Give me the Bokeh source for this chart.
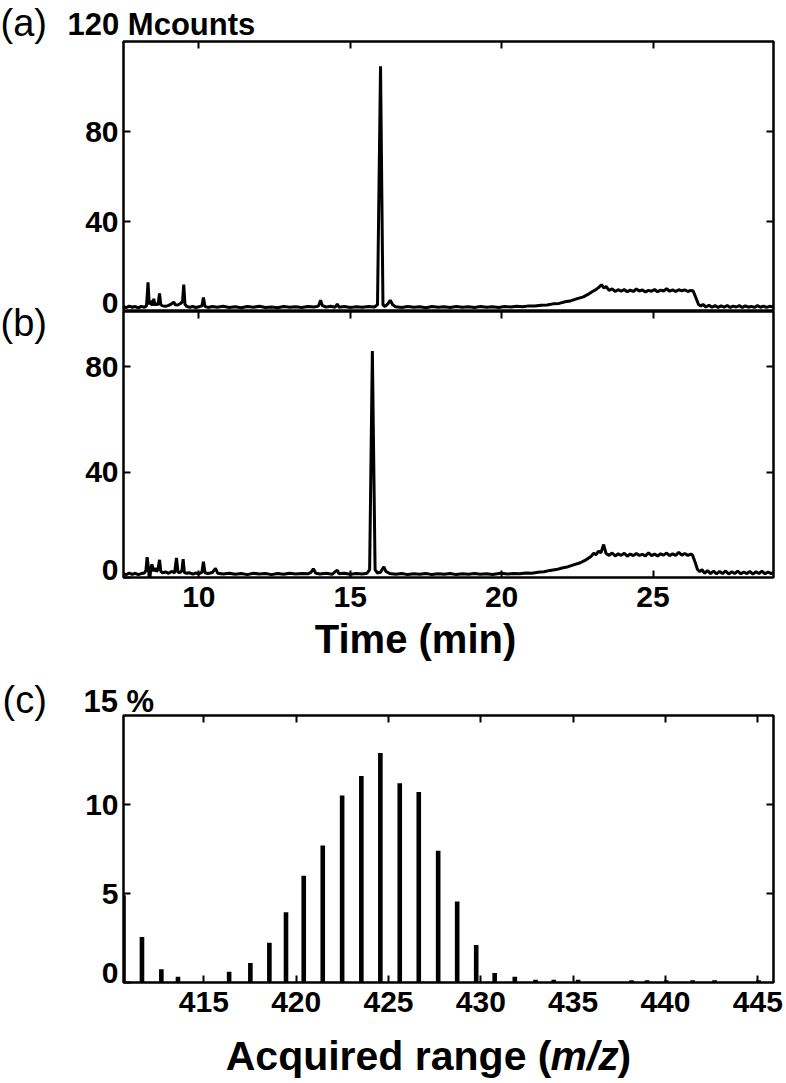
from bokeh.plotting import figure
from bokeh.models import Range1d, LinearAxis, FixedTicker, GridBox
from bokeh.layouts import column
from bokeh.core.properties import value
from bokeh.embed import file_html
from bokeh.resources import INLINE

# ---------------- data ----------------
time_a = [7.51, 7.6, 7.7, 7.8, 7.9, 8.0, 8.1, 8.2, 8.27, 8.32, 8.36, 8.42, 8.46, 8.51, 8.55, 8.6, 8.65, 8.7, 8.74, 8.8,
          8.9, 9.0, 9.1, 9.17, 9.22, 9.3, 9.4, 9.46, 9.5, 9.54, 9.6, 9.7, 9.8, 9.9, 10.0, 10.1, 10.15, 10.2, 10.3, 10.45,
          10.6, 10.8, 11.0, 11.2, 11.4, 11.6, 11.8, 12.0, 12.2, 12.4, 12.6, 12.8, 13.0, 13.2, 13.4, 13.6, 13.8, 13.95, 14.02, 14.08,
          14.2, 14.35, 14.5, 14.57, 14.63, 14.8, 15.0, 15.2, 15.4, 15.6, 15.8, 15.9, 16.0, 16.08, 16.15, 16.24, 16.32, 16.4, 16.5, 16.7,
          16.9, 17.1, 17.3, 17.5, 17.7, 17.9, 18.1, 18.3, 18.5, 18.7, 18.9, 19.1, 19.3, 19.5, 19.7, 19.9, 20.1, 20.3, 20.5, 20.7,
          20.9, 21.1, 21.3, 21.5, 21.7, 21.9, 22.1, 22.3, 22.5, 22.7, 22.85, 23.0, 23.1, 23.2, 23.3, 23.38, 23.45, 23.55, 23.65, 23.75,
          23.85, 23.95, 24.05, 24.15, 24.25, 24.35, 24.45, 24.55, 24.65, 24.75, 24.85, 24.95, 25.05, 25.15, 25.25, 25.35, 25.45, 25.55, 25.65, 25.75,
          25.85, 25.95, 26.05, 26.15, 26.25, 26.33, 26.42, 26.5, 26.58, 26.65, 26.75, 26.85, 26.95, 27.05, 27.15, 27.25, 27.35, 27.45, 27.55, 27.65,
          27.75, 27.85, 27.95, 28.05, 28.15, 28.25, 28.35, 28.45, 28.55, 28.65, 28.75, 28.85, 28.98]
counts_a = [2.2, 1.7, 2.4, 1.9, 2.2, 1.6, 2.3, 1.9, 2.5, 13.0, 3.2, 4.8, 2.6, 5.6, 2.8, 3.6, 2.9, 8.0, 3.1, 2.5,
            2.3, 2.7, 3.4, 4.2, 3.0, 2.9, 3.6, 4.5, 12.0, 3.2, 2.2, 1.9, 2.2, 1.8, 2.1, 2.5, 6.2, 2.3, 1.8, 2.2,
            1.9, 2.3, 1.8, 2.1, 1.7, 2.2, 1.9, 2.3, 1.8, 2.0, 1.7, 2.2, 1.9, 2.1, 1.8, 2.2, 2.0, 2.4, 5.0, 2.6,
            2.0, 2.3, 1.9, 3.3, 1.9, 2.2, 1.8, 2.1, 1.9, 2.2, 2.0, 3.0, 109.0, 3.0, 2.2, 3.4, 5.0, 3.0, 2.1, 1.8,
            2.2, 1.9, 2.1, 1.7, 2.2, 1.9, 2.1, 1.8, 2.2, 1.9, 2.1, 1.8, 2.2, 1.9, 2.1, 1.8, 2.2, 2.0, 2.3, 2.1,
            2.5, 2.4, 2.8, 2.9, 3.4, 3.6, 4.3, 4.8, 5.7, 6.5, 7.6, 8.9, 9.6, 10.6, 11.9, 10.4, 11.2, 9.4, 10.1, 8.9,
            9.7, 9.0, 9.8, 8.8, 9.5, 8.9, 10.0, 9.1, 9.6, 8.7, 9.4, 9.0, 9.8, 8.8, 9.5, 9.1, 10.1, 9.0, 9.6, 8.9,
            9.7, 9.2, 9.6, 8.9, 9.4, 9.0, 6.0, 3.2, 2.4, 3.1, 2.0, 2.8, 1.9, 2.6, 1.8, 2.5, 1.9, 2.7, 1.8, 2.4,
            2.0, 2.6, 1.8, 2.5, 1.9, 2.3, 1.8, 2.6, 1.9, 2.4, 1.8, 2.3, 2.0]

time_b = [7.51, 7.6, 7.7, 7.8, 7.9, 8.0, 8.1, 8.2, 8.25, 8.29, 8.33, 8.37, 8.41, 8.45, 8.5, 8.55, 8.6, 8.65, 8.7, 8.74,
          8.8, 8.9, 9.0, 9.1, 9.2, 9.26, 9.31, 9.38, 9.44, 9.48, 9.52, 9.6, 9.7, 9.8, 9.9, 10.0, 10.1, 10.15, 10.2, 10.3,
          10.45, 10.55, 10.62, 10.8, 11.0, 11.2, 11.4, 11.6, 11.8, 12.0, 12.2, 12.4, 12.6, 12.8, 13.0, 13.2, 13.4, 13.6, 13.7, 13.78,
          13.86, 14.0, 14.2, 14.4, 14.57, 14.63, 14.8, 15.0, 15.2, 15.4, 15.55, 15.64, 15.73, 15.82, 15.9, 16.0, 16.05, 16.11, 16.17, 16.3,
          16.5, 16.7, 16.9, 17.1, 17.3, 17.5, 17.7, 17.9, 18.1, 18.3, 18.5, 18.7, 18.9, 19.1, 19.3, 19.5, 19.7, 19.97, 20.2, 20.4,
          20.6, 20.8, 21.0, 21.2, 21.4, 21.6, 21.8, 22.0, 22.2, 22.4, 22.6, 22.8, 22.95, 23.04, 23.12, 23.2, 23.28, 23.37, 23.45, 23.55,
          23.65, 23.75, 23.85, 23.95, 24.05, 24.15, 24.25, 24.35, 24.45, 24.55, 24.65, 24.75, 24.85, 24.95, 25.05, 25.15, 25.25, 25.35, 25.45, 25.55,
          25.65, 25.75, 25.85, 25.95, 26.05, 26.15, 26.25, 26.3, 26.4, 26.47, 26.55, 26.62, 26.7, 26.8, 26.9, 27.0, 27.1, 27.2, 27.3, 27.4,
          27.5, 27.6, 27.7, 27.8, 27.9, 28.0, 28.1, 28.2, 28.3, 28.4, 28.5, 28.6, 28.7, 28.8, 28.9, 28.98]
counts_b = [1.5, 1.1, 1.7, 1.2, 1.6, 1.1, 1.5, 1.7, 2.6, 7.7, 4.0, -1.5, 3.2, 5.0, 2.4, 3.6, 2.3, 3.0, 6.7, 2.4,
            1.8, 2.1, 1.6, 2.3, 1.8, 7.4, 2.0, 1.9, 2.6, 7.0, 1.9, 1.6, 1.8, 1.3, 1.7, 1.4, 2.0, 6.0, 1.8, 1.5,
            1.9, 3.5, 1.6, 1.3, 1.6, 1.2, 1.5, 1.1, 1.6, 1.3, 1.5, 1.1, 1.5, 1.2, 1.6, 1.3, 1.5, 1.4, 1.9, 3.3,
            1.6, 1.3, 1.6, 1.2, 2.8, 1.4, 1.6, 1.2, 1.5, 1.3, 1.6, 3.0, 86.0, 3.0, 1.7, 2.0, 3.0, 4.0, 2.4, 1.5,
            1.2, 1.5, 1.1, 1.4, 1.2, 1.5, 1.1, 1.4, 1.2, 1.5, 1.1, 1.4, 1.2, 1.5, 1.2, 1.4, 1.1, 1.6, 1.3, 1.5,
            1.4, 1.7, 1.6, 2.0, 2.2, 2.7, 3.0, 3.6, 4.1, 4.9, 5.6, 6.8, 8.0, 9.2, 8.7, 10.0, 9.4, 12.5, 9.1, 8.4,
            9.3, 8.2, 9.0, 8.4, 9.2, 8.1, 8.9, 8.3, 9.1, 8.4, 8.8, 8.2, 9.4, 8.3, 8.9, 8.2, 9.0, 8.5, 9.3, 8.3,
            9.0, 8.4, 9.6, 8.5, 9.1, 8.4, 8.9, 8.6, 5.5, 3.0, 2.2, 3.0, 1.6, 2.6, 1.5, 2.4, 1.4, 2.3, 1.5, 2.5,
            1.3, 2.2, 1.5, 2.4, 1.4, 2.1, 1.5, 2.3, 1.3, 2.2, 1.5, 2.4, 1.4, 2.1, 1.5, 1.9]

mz = [410.65, 411.65, 412.70, 413.60, 416.37, 417.52, 418.55, 419.45, 420.41, 421.44, 422.49, 423.53, 424.56, 425.61,
      426.64, 427.69, 428.72, 429.75, 430.75, 431.84, 432.96, 433.95, 435.27, 438.16, 439.00, 440.04, 441.47, 442.66, 445.04]
pct = [4.9, 2.55, 0.75, 0.32, 0.6, 1.09, 2.24, 3.94, 6.0, 7.7, 10.5, 11.6, 12.9, 11.2,
       10.7, 7.4, 4.55, 2.1, 0.53, 0.33, 0.15, 0.15, 0.15, 0.12, 0.12, 0.12, 0.12, 0.12, 0.12]

time_ticks = [10, 15, 20, 25]
count_ticks = [0, 40, 80]
pct_ticks = [0, 5, 10]
mz_ticks = [415, 420, 425, 430, 435, 440, 445]

FONT = "Liberation Sans"
TICK_PX = 30
W, H = 786, 1083


def style_axis(ax, ticks, labels, hide=(), standoff=5):
    ax.ticker = FixedTicker(ticks=ticks)
    ax.axis_line_color = None
    ax.major_tick_in = 7
    ax.major_tick_out = 0
    ax.major_tick_line_color = "black"
    ax.major_tick_line_width = 2
    ax.minor_tick_line_color = None
    ax.axis_label = None
    if labels:
        ax.major_label_text_font = FONT
        ax.major_label_text_font_style = "bold"
        ax.major_label_text_font_size = f"{TICK_PX}px"
        ax.major_label_text_color = "black"
        ax.major_label_standoff = standoff
        if hide:
            ax.major_label_overrides = {t: "" for t in hide}
    else:
        ax.major_label_overrides = {t: "" for t in ticks}
        ax.major_label_text_font_size = "0px"
        ax.major_label_standoff = 0


def make_fig(xr, yr, fh, top, bottom):
    p = figure(frame_width=650, frame_height=fh, x_range=xr, y_range=yr,
               output_backend="svg", toolbar_location=None,
               min_border_left=123, min_border_right=13,
               min_border_top=top, min_border_bottom=bottom,
               x_axis_location=None, y_axis_location=None)
    p.xgrid.visible = False
    p.ygrid.visible = False
    p.outline_line_color = "black"
    p.outline_line_width = 2.5
    p.background_fill_color = "white"
    p.border_fill_color = "white"
    return p


def add_axes(p, xticks, yticks_left, yticks_right, bottom_labels, draw_top=True):
    left = LinearAxis()
    style_axis(left, yticks_left, True, hide=(0,), standoff=5)
    p.add_layout(left, "left")
    right = LinearAxis()
    style_axis(right, yticks_right, False)
    p.add_layout(right, "right")
    if draw_top:
        top = LinearAxis()
        style_axis(top, xticks, False)
        p.add_layout(top, "above")
    if bottom_labels is not None:
        bot = LinearAxis()
        style_axis(bot, xticks, bottom_labels, standoff=9)
        p.add_layout(bot, "below")


# ---------------- panel (a) ----------------
pa = make_fig(Range1d(7.51, 28.98), Range1d(0, 120), 270, 41, 0)
add_axes(pa, time_ticks, count_ticks, [40, 80], None)
pa.line(time_a, counts_a, line_color="black", line_width=3)

# ---------------- panel (b) ----------------
pb = make_fig(Range1d(7.51, 28.98), Range1d(0, 101), 266, 0, 88)
add_axes(pb, time_ticks, count_ticks, [40, 80], True)
pb.line(time_b, counts_b, line_color="black", line_width=3)

# ---------------- panel (c) ----------------
pc = make_fig(Range1d(410.65, 445.85), Range1d(0, 15), 267, 50, 101)
add_axes(pc, mz_ticks, pct_ticks, [5, 10], True)
pc.vbar(x=mz, top=pct, bottom=0, width=0.25, fill_color="black", line_color=None)

panels = column(pa, pb, pc, spacing=0)

# ---------------- text overlay (page pixel coordinates) ----------------
ov = figure(frame_width=W, frame_height=H, x_range=Range1d(0, W), y_range=Range1d(H, 0),
            output_backend="svg", toolbar_location=None, min_border=0,
            x_axis_location=None, y_axis_location=None)
ov.xgrid.visible = False
ov.ygrid.visible = False
ov.outline_line_color = None
ov.background_fill_alpha = 0
ov.border_fill_alpha = 0

BASELINE_FIX = 0.34  # measured offset of the rendered baseline, in em


def txt(x, baseline_y, s, size_px, style="bold", align="left"):
    ov.text(x=[x], y=[baseline_y - BASELINE_FIX * size_px], text=[s], text_font=value(FONT),
            text_font_size=value(f"{size_px}px"), text_font_style=style, text_align=align,
            text_baseline="alphabetic", text_color="black")


txt(0, 35, "(a)", 38, style="normal")
txt(67, 35, "120 Mcounts", 31)
txt(118, 313, "0", TICK_PX, align="right")
txt(0, 335, "(b)", 38, style="normal")
txt(118, 580, "0", TICK_PX, align="right")
txt(415, 652, "Time (min)", 40, align="center")
txt(2, 712, "(c)", 38, style="normal")
txt(83, 712, "15 %", 31)
txt(118, 983, "0", TICK_PX, align="right")
txt(551, 1069, "Acquired range (", 41, align="right")
txt(550, 1069, "m/z", 41, style="bold italic")
txt(617, 1069, ")", 41)

layout = GridBox(children=[(panels, 0, 0), (ov, 0, 0)])
open("out.html", "w").write(file_html(layout, INLINE))
